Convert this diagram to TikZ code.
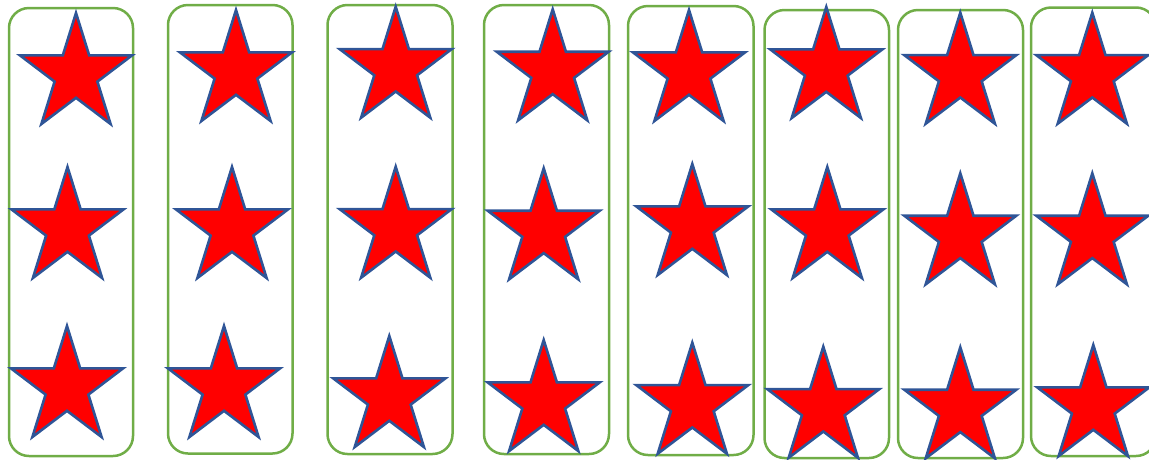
\documentclass[tikz,border=0pt]{standalone}
\usepackage{tikz}
\definecolor{boxgreen}{HTML}{70AD47}
\definecolor{starblue}{HTML}{2F5597}
\definecolor{starred}{HTML}{FF0000}
\tikzset{
  boxsty/.style={draw=boxgreen, line width=2.5pt, rounded corners=20pt},
  starsty/.style={draw=starblue, fill=starred, line width=2.6pt, line join=miter},
  pics/redstar/.style={code={
    \draw[starsty] (0,0) -- (13.2,42.4) -- (56,42.4) -- (21.4,68.6) -- (34.6,111)
      -- (0,84.8) -- (-34.6,111) -- (-21.4,68.6) -- (-56,42.4) -- (-13.2,42.4) -- cycle;
  }}
}
\begin{document}
\begin{tikzpicture}[x=1pt,y=-1pt]
\useasboundingbox (0,0) rectangle (1149,459);
\clip (0,0) rectangle (1149,459);
% boxes
\draw[boxsty] (9,8) rectangle (133,456);
\draw[boxsty] (168,5) rectangle (292.5,453.5);
\draw[boxsty] (327.5,5) rectangle (452.5,454);
\draw[boxsty] (484,5) rectangle (609,454);
\draw[boxsty] (628,6) rectangle (753.5,455);
\draw[boxsty] (764.5,10) rectangle (889,458);
\draw[boxsty] (898,10) rectangle (1023,458);
\draw[boxsty] (1031,7.5) rectangle (1156,456);
% stars (top point coordinates)
\pic (b1s1) at (76,13) {redstar};
\pic (b1s2) at (67.5,167) {redstar};
\pic (b1s3) at (67,326) {redstar};
\pic (b2s1) at (236,10) {redstar};
\pic (b2s2) at (232,167) {redstar};
\pic (b2s3) at (224,326) {redstar};
\pic (b3s1) at (395.7,6.7) {redstar};
\pic (b3s2) at (395.7,166.7) {redstar};
\pic (b3s3) at (389.3,336) {redstar};
\pic (b4s1) at (552.7,9.3) {redstar};
\pic (b4s2) at (543.7,168.3) {redstar};
\pic (b4s3) at (543.7,340) {redstar};
\pic (b5s1) at (689,10) {redstar};
\pic (b5s2) at (692.3,164) {redstar};
\pic (b5s3) at (692.3,342.7) {redstar};
\pic (b6s1) at (826.3,7) {redstar};
\pic (b6s2) at (827.3,167) {redstar};
\pic (b6s3) at (823.3,346.7) {redstar};
\pic (b7s1) at (960.3,12.7) {redstar};
\pic (b7s2) at (960.3,173.3) {redstar};
\pic (b7s3) at (960.3,347.3) {redstar};
\pic (b8s1) at (1092.3,12.7) {redstar};
\pic (b8s2) at (1092.3,173.3) {redstar};
\pic (b8s3) at (1093.3,345) {redstar};
\end{tikzpicture}
\end{document}
